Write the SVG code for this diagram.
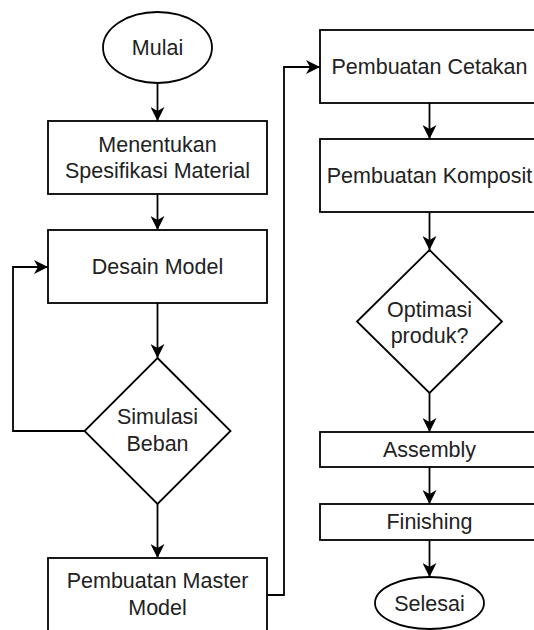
<svg xmlns="http://www.w3.org/2000/svg" width="534" height="630" viewBox="0 0 534 630">
<style>
.n{fill:#fff;stroke:#000;stroke-width:1.8}
.t{font-family:"Liberation Sans",Arial,sans-serif;font-size:21.5px;fill:#222;text-anchor:middle}
.c{fill:none;stroke:#000;stroke-width:1.8}
</style>
<defs>
<marker id="a" markerUnits="userSpaceOnUse" viewBox="0 0 14 14" refX="14" refY="7" markerWidth="15" markerHeight="14" orient="auto">
<path d="M14,7 L0,0 L4,7 L0,14 Z" fill="#000"/>
</marker>
</defs>
<rect width="534" height="630" fill="#fff"/>
<g id="connectors">
<path class="c" d="M157.5,83 V121" marker-end="url(#a)"/>
<path class="c" d="M157.5,194 V230" marker-end="url(#a)"/>
<path class="c" d="M157.5,303 V358" marker-end="url(#a)"/>
<path class="c" d="M85,431 H13 V267 H48" marker-end="url(#a)"/>
<path class="c" d="M157.5,504 V558" marker-end="url(#a)"/>
<path class="c" d="M267,595 H284 V67 H320" marker-end="url(#a)"/>
<path class="c" d="M429.5,103 V139" marker-end="url(#a)"/>
<path class="c" d="M429.5,212 V250" marker-end="url(#a)"/>
<path class="c" d="M429.5,393 V432" marker-end="url(#a)"/>
<path class="c" d="M429.5,467 V504" marker-end="url(#a)"/>
<path class="c" d="M429.5,540 V577" marker-end="url(#a)"/>
</g>
<g id="mulai"><ellipse class="n" cx="157.5" cy="47.5" rx="54.5" ry="35.5"/><text class="t" x="157.5" y="54.5">Mulai</text></g>
<g id="spesifikasi"><rect class="n" x="48" y="121" width="219" height="73"/><text class="t" x="157.5" y="152">Menentukan</text><text class="t" x="157.5" y="178">Spesifikasi Material</text></g>
<g id="desain"><rect class="n" x="48" y="230" width="219" height="73"/><text class="t" x="157.5" y="274">Desain Model</text></g>
<g id="simulasi"><polygon class="n" points="157.5,358 230.5,431 157.5,504 84.5,431"/><text class="t" x="157.5" y="424">Simulasi</text><text class="t" x="157.5" y="451">Beban</text></g>
<g id="master"><rect class="n" x="48" y="558" width="219" height="73"/><text class="t" x="157.5" y="588">Pembuatan Master</text><text class="t" x="157.5" y="615">Model</text></g>
<g id="cetakan"><rect class="n" x="320" y="30" width="219" height="73"/><text class="t" x="429.5" y="74">Pembuatan Cetakan</text></g>
<g id="komposit"><rect class="n" x="320" y="139" width="219" height="73"/><text class="t" x="429.5" y="183">Pembuatan Komposit</text></g>
<g id="optimasi"><polygon class="n" points="429.5,250 502,321.5 429.5,393 357,321.5"/><text class="t" x="429.5" y="317">Optimasi</text><text class="t" x="429.5" y="343">produk?</text></g>
<g id="assembly"><rect class="n" x="320" y="432" width="219" height="35"/><text class="t" x="429.5" y="456.5">Assembly</text></g>
<g id="finishing"><rect class="n" x="320" y="504" width="219" height="36"/><text class="t" x="429.5" y="529">Finishing</text></g>
<g id="selesai"><ellipse class="n" cx="429.5" cy="603" rx="54.5" ry="26"/><text class="t" x="429.5" y="610.5">Selesai</text></g>
</svg>
